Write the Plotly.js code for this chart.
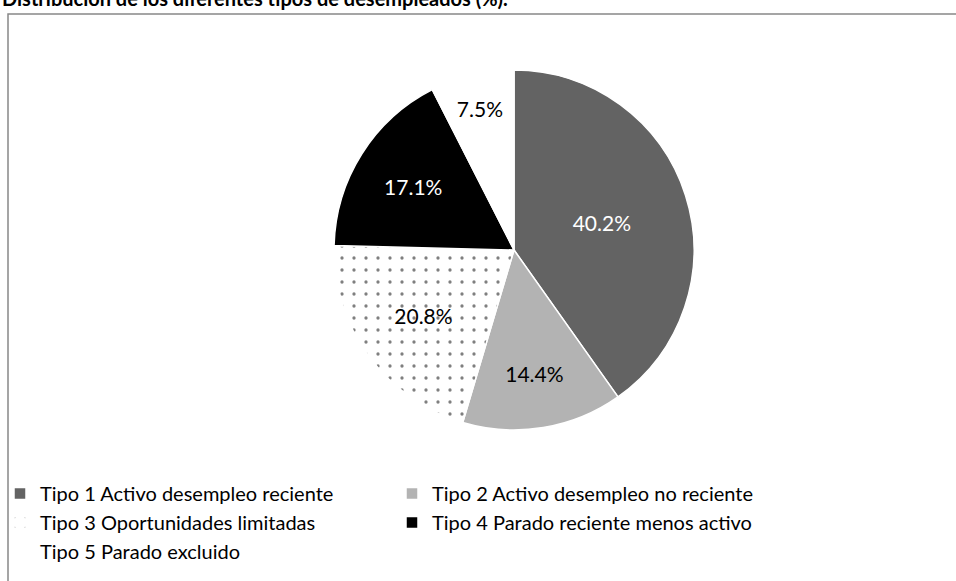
<!DOCTYPE html>
<html>
<head>
<meta charset="utf-8">
<script src="https://cdn.plot.ly/plotly-3.0.1.min.js"></script>
<style>html,body{margin:0;padding:0;background:#fff;}#chart{width:956px;height:581px;}</style>
</head>
<body>
<div id="chart"></div>
<script>
const title = "Distribución de los diferentes tipos de desempleados (%).";
const categories = [
  "Tipo 1 Activo desempleo reciente",
  "Tipo 2 Activo desempleo no reciente",
  "Tipo 3 Oportunidades limitadas",
  "Tipo 4 Parado reciente menos activo",
  "Tipo 5 Parado excluido"
];
const values = [40.2, 14.4, 20.8, 17.1, 7.5];
const sliceColors = ["#636363", "#b3b3b3", "#ffffff", "#000000", "#ffffff"];
const labelColors = ["#ffffff", "#000000", "#000000", "#ffffff", "#000000"];
const patternShapes = ["", "", ".", "", ""];

const FONT = "Lato, Open Sans, sans-serif";

const trace = {
  type: "pie",
  labels: categories,
  values: values,
  sort: false,
  direction: "clockwise",
  rotation: 0,
  texttemplate: "%{value:.1f}%",
  textposition: "inside",
  insidetextorientation: "horizontal",
  textfont: {family: FONT, size: 21, color: labelColors},
  hoverinfo: "label+value",
  marker: {
    colors: sliceColors,
    line: {color: "#ffffff", width: 1.5},
    pattern: {
      shape: patternShapes,
      fgcolor: "#000000",
      bgcolor: "#ffffff",
      size: 12,
      solidity: 0.06,
      fillmode: "overlay"
    }
  },
  domain: {x: [(514-180)/956, (514+180)/956], y: [1-430/581, 1-70/581]}
};

const layout = {
  width: 956,
  height: 581,
  margin: {l: 0, r: 0, t: 0, b: 0},
  paper_bgcolor: "#ffffff",
  font: {family: FONT, size: 20, color: "#000000"},
  showlegend: true,
  legend: {
    orientation: "h",
    x: 0,
    xanchor: "left",
    y: 1 - 474/581,
    yanchor: "top",
    entrywidth: 347,
    entrywidthmode: "pixels",
    bgcolor: "rgba(0,0,0,0)",
    font: {family: FONT, size: 20, color: "#000000"},
    traceorder: "normal"
  },
  shapes: [{
    type: "rect", xref: "paper", yref: "paper",
    x0: 8/956, x1: 1.01, y0: -0.02, y1: 1 - 14/581,
    line: {color: "#888888", width: 1.5}, fillcolor: "rgba(0,0,0,0)"
  }],
  annotations: [{
    text: "<b>" + title + "</b>",
    xref: "paper", yref: "paper",
    x: 0, xanchor: "left",
    y: 1 - 12/581, yanchor: "bottom",
    showarrow: false,
    font: {family: FONT, size: 20, color: "#000000"}
  }]
};

Plotly.newPlot("chart", [trace], layout, {displayModeBar: false, responsive: false});
</script>
</body>
</html>
